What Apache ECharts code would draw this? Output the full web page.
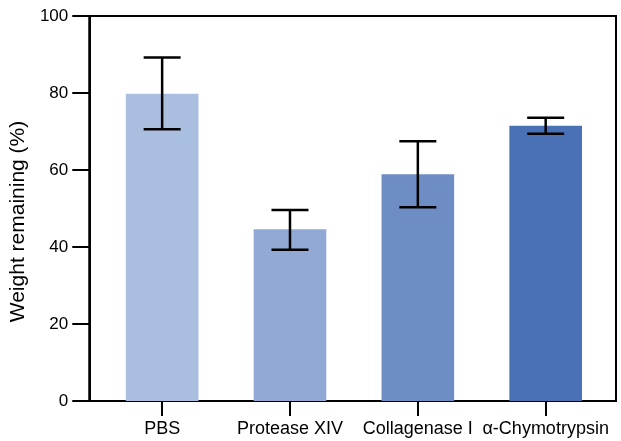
<!DOCTYPE html>
<html>
<head>
<meta charset="utf-8">
<script src="https://cdn.jsdelivr.net/npm/echarts@6/dist/echarts.min.js"></script>
<style>
  html, body { margin: 0; padding: 0; background: #fff; }
  #main { width: 621px; height: 441px; }
</style>
</head>
<body>
<div id="main"></div>
<script>
// data
const categories = ["PBS", "Protease XIV", "Collagenase I", "α-Chymotrypsin"];
const means   = [79.8, 44.6, 58.9, 71.5];
const errLow  = [70.6, 39.3, 50.3, 69.4];
const errHigh = [89.2, 49.6, 67.5, 73.6];
const barColors = ["#aabfe0", "#91a9d4", "#6d8dc4", "#4a70b6"];
const yTicks = [0, 20, 40, 60, 80, 100];

const chart = echarts.init(document.getElementById("main"));
const FONT = "Liberation Sans, Arial, sans-serif";
const BAR_HALF = 0.284;

const barData = means.map((v, i) => [i, v]);
const errData = means.map((v, i) => [i, errLow[i], errHigh[i]]);

chart.setOption({
  backgroundColor: "#fff",
  animation: false,
  grid: { left: 87, right: 5, top: 16, bottom: 40, show: true,
          borderColor: "#000", borderWidth: 2, backgroundColor: "transparent" },
  xAxis: {
    type: "value", min: -0.57, max: 3.55,
    axisLine: { show: true, onZero: false, lineStyle: { color: "#000", width: 2 } },
    axisTick: { show: true, length: 15, customValues: [0, 1, 2, 3], lineStyle: { color: "#000", width: 2 } },
    axisLabel: { customValues: [0, 1, 2, 3], formatter: (v) => categories[Math.round(v)],
                 color: "#000", fontSize: 18, fontFamily: FONT, margin: 19 },
    splitLine: { show: false }
  },
  yAxis: {
    type: "value", min: 0, max: 100, interval: 20,
    name: "Weight remaining (%)", nameLocation: "middle", nameGap: 55,
    nameTextStyle: { color: "#000", fontSize: 21, fontFamily: FONT, padding: [0, 26, 0, 0] },
    axisLine: { show: true, onZero: false, lineStyle: { color: "#000", width: 2 } },
    axisTick: { show: true, length: 17, lineStyle: { color: "#000", width: 2 } },
    axisLabel: { color: "#000", fontSize: 17, fontFamily: FONT, margin: 21,
                 formatter: (v) => yTicks.includes(v) ? String(v) : "" },
    splitLine: { show: false }
  },
  series: [
    {
      type: "custom",
      data: barData,
      z: 2,
      renderItem: (params, api) => {
        const x = api.value(0), y = api.value(1);
        const p0 = api.coord([x - BAR_HALF, y]);
        const p1 = api.coord([x + BAR_HALF, 0]);
        return { type: "rect",
          shape: { x: p0[0], y: p0[1], width: p1[0] - p0[0], height: p1[1] - p0[1] },
          style: { fill: barColors[params.dataIndex] } };
      }
    },
    {
      type: "custom",
      data: errData,
      z: 3,
      renderItem: (params, api) => {
        const x = api.value(0);
        const lo = api.coord([x, api.value(1)]);
        const hi = api.coord([x, api.value(2)]);
        const cap = 18.5;
        const st = { stroke: "#000", lineWidth: 2.5 };
        return { type: "group", children: [
          { type: "line", shape: { x1: lo[0], y1: lo[1], x2: hi[0], y2: hi[1] }, style: st },
          { type: "line", shape: { x1: lo[0] - cap, y1: lo[1], x2: lo[0] + cap, y2: lo[1] }, style: st },
          { type: "line", shape: { x1: hi[0] - cap, y1: hi[1], x2: hi[0] + cap, y2: hi[1] }, style: st }
        ]};
      }
    }
  ]
});
</script>
</body>
</html>
